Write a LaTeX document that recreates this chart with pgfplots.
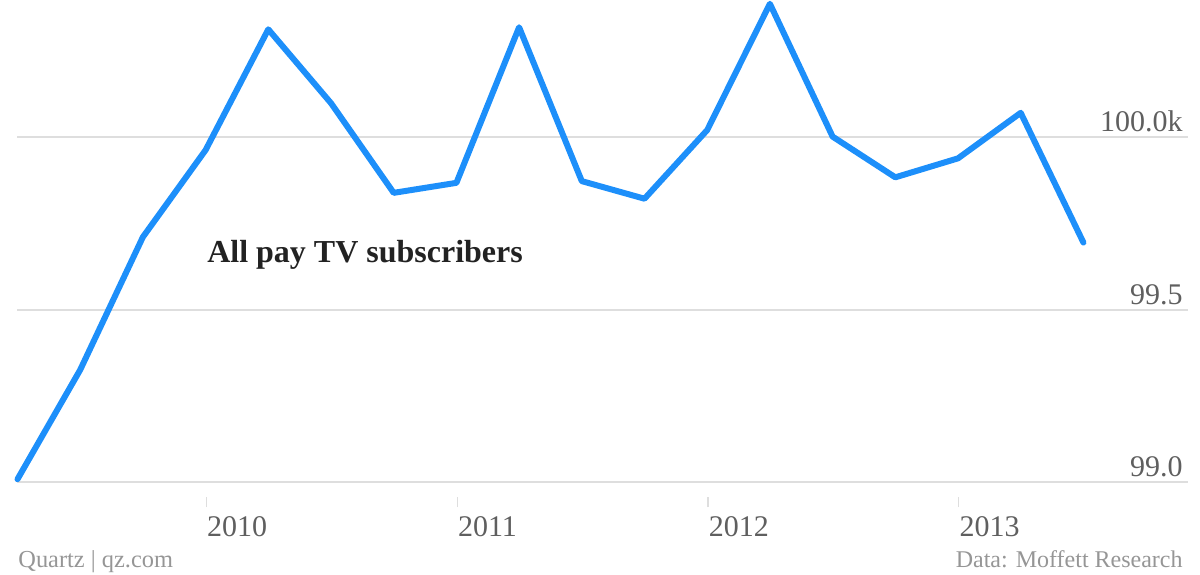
\documentclass[border=0pt]{standalone}
\usepackage{pgfplots}
\pgfplotsset{compat=1.18}
\usepackage{fontspec}
\setmainfont{Liberation Serif}
\definecolor{qzblue}{RGB}{29,143,250}
\definecolor{gridgrey}{RGB}{222,222,222}
\definecolor{ticktext}{RGB}{95,95,95}
\definecolor{foottext}{RGB}{150,150,150}
\definecolor{labeltext}{RGB}{34,34,34}
\begin{document}
\begin{tikzpicture}
\path[use as bounding box] (0,0) rectangle (600pt,287pt);
\begin{axis}[
  at={(8.75pt,45.85pt)}, anchor=south west,
  scale only axis, width=585.25pt, height=241.15pt,
  xmin=2009.25, xmax=2013.917,
  ymin=99.0, ymax=100.398,
  clip=false,
  axis line style={draw=none},
  ymajorgrids, grid style={gridgrey, line width=1pt},
  ytick={99,99.5,100}, yticklabels={99.0,99.5,100.0k},
  y tick style={draw=none},
  yticklabel pos=right,
  yticklabel style={anchor=base east, inner sep=0pt, xshift=-2.5pt, yshift=2.8pt, text=ticktext, font=\fontsize{15}{18}\selectfont},
  xtick={2010,2011,2012,2013}, xticklabels={2010,2011,2012,2013},
  xtick pos=bottom, tick align=inside, major tick length=5pt,
  x tick style={gridgrey, line width=0.6pt, yshift=-12.5pt, xshift=0.4pt},
  xticklabel style={anchor=base west, inner sep=0pt, yshift=-27pt, xshift=0.6pt, text=ticktext, font=\fontsize{15}{18}\selectfont},
]
\addplot[qzblue, line width=3pt, line join=round, line cap=round, mark=none] coordinates {
(2009.25,99.009)
(2009.50,99.326)
(2009.75,99.711)
(2010.00,99.963)
(2010.25,100.313)
(2010.50,100.099)
(2010.75,99.839)
(2011.00,99.868)
(2011.25,100.319)
(2011.50,99.873)
(2011.75,99.822)
(2012.00,100.021)
(2012.25,100.387)
(2012.50,100.002)
(2012.75,99.884)
(2013.00,99.939)
(2013.25,100.071)
(2013.50,99.695)
};
\node[anchor=west, inner sep=0pt, text=labeltext, font=\fontsize{16}{18}\selectfont\bfseries] at (axis cs:2010.005,99.659) {All pay TV subscribers};
\end{axis}
\node[anchor=base west, inner sep=0pt, text=foottext, font=\fontsize{12.2}{15}\selectfont] at (9pt,3.2pt) {Quartz | qz.com};
\node[anchor=base east, inner sep=0pt, text=foottext, font=\fontsize{12}{15}\selectfont] at (591.5pt,3.5pt) {Data: Moffett Research};
\end{tikzpicture}
\end{document}
